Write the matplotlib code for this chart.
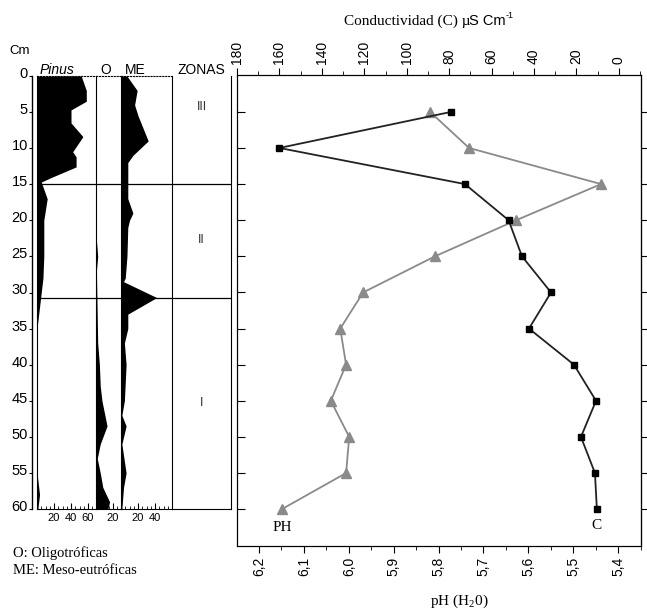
import numpy as np
import matplotlib.pyplot as plt
from matplotlib.ticker import MultipleLocator, FuncFormatter
import matplotlib.transforms as mtransforms

# Depth profile data (cm)
depth = [5, 10, 15, 20, 25, 30, 35, 40, 45, 50, 55, 60]
cond = [79, 160, 72.6, 52, 45.7, 32, 42.4, 21.2, 10.8, 17.9, 11.3, 10.4]
ph = [5.819, 5.732, 5.438, 5.627, 5.808, 5.968, 6.019, 6.006, 6.040, 5.999, 6.006, 6.149]

pinus_depth = [0, 2, 3.5, 4.7, 6.5, 8.4, 10.5, 11.2, 12.6, 14.1, 14.7, 17, 20, 25, 28, 31, 34, 35, 55, 58, 60]
pinus_val = [52, 58, 58, 40, 40, 54, 42, 46, 46, 16, 5, 12, 8, 8, 7, 4, 1, 0, 0, 3, 1]

o_depth = [0, 22, 25, 27, 37, 40, 43, 45, 48.5, 51, 53, 55, 57, 59, 60]
o_val = [0, 0, 2, 0.5, 2, 4, 5, 7, 13, 5, 1.5, 5, 8, 16, 14]

me_depth = [0, 2, 4, 5.5, 9, 11, 12, 15, 17, 19, 20, 21, 25, 28, 28.5, 30.7, 33, 35, 37, 40, 45, 47, 48.5, 51, 55, 57, 60]
me_val = [7, 19, 16, 20, 32, 14, 8, 8, 8, 14, 10, 8, 7, 5, 3, 42, 8, 8, 4, 6, 4, 1, 6, 1, 6, 3, 1]

zone_bounds = [15, 30.7]
zone_names = ["III", "II", "I"]
zone_pos = [4.3, 22.7, 45.3]

W, H = 647, 609
fig = plt.figure(figsize=(W / 100, H / 100), dpi=100)
plt.rcParams["font.family"] = "Liberation Sans"


def px_axes(x0, y0, x1, y1):
    return fig.add_axes([x0 / W, 1 - y1 / H, (x1 - x0) / W, (y1 - y0) / H])


# ---- left pollen panels ----
top, bot = 76, 509
lift = mtransforms.ScaledTranslation(0, 0.035, fig.dpi_scale_trans)

ax0 = px_axes(32, top, 33, bot)
ax0.set_ylim(60, 0)
ax0.set_xticks([])
for s in ["top", "right", "bottom"]:
    ax0.spines[s].set_visible(False)
ax0.spines["left"].set_linewidth(1.0)
ax0.set_yticks(np.arange(0, 61, 5))
ax0.tick_params(axis="y", length=2, labelsize=10.5, pad=1)
for lbl in ax0.get_yticklabels():
    lbl.set_transform(lbl.get_transform() + lift)

panels = [
    (37, 96, 59 / 0.85, pinus_depth, pinus_val, [20, 40, 60]),
    (96, 121, 25 / 0.85, o_depth, o_val, [20]),
    (121, 172, 51 / 0.85, me_depth, me_val, [20, 40]),
    (172, 231, 1, None, None, []),
]
axes_left = []
for x0, x1, xmax, d, v, ticks in panels:
    a = px_axes(x0, top, x1, bot)
    a.set_ylim(60, 0)
    a.set_xlim(0, xmax)
    a.set_yticks([])
    if d is not None:
        a.fill_betweenx(d, 0, v, color="black", lw=0)
        a.xaxis.set_minor_locator(MultipleLocator(5))
        a.spines["top"].set_linestyle(":")
    else:
        a.spines["top"].set_visible(False)
    a.set_xticks(ticks)
    a.tick_params(axis="x", which="major", direction="in", length=4, labelsize=8, pad=3)
    a.tick_params(axis="x", which="minor", direction="in", length=2)
    a.spines["right"].set_visible(False)
    for zb in zone_bounds:
        a.axhline(zb, color="black", lw=0.9)
    axes_left.append(a)

axes_left[-1].spines["right"].set_visible(True)
for name, zp in zip(zone_names, zone_pos):
    axes_left[-1].text(0.5, zp, name, ha="center", va="center", fontsize=9, color="#333")

fig.text(40 / W, 1 - 70 / H, "Pinus", style="italic", fontsize=10, ha="left", va="center")
fig.text(106 / W, 1 - 70 / H, "O", fontsize=10, ha="center", va="center")
fig.text(135 / W, 1 - 70 / H, "ME", fontsize=10, ha="center", va="center")
fig.text(201 / W, 1 - 70 / H, "ZONAS", fontsize=10, ha="center", va="center")
fig.text(20 / W, 1 - 51 / H, "Cm", fontsize=9.5, ha="center", va="center")

fig.text(13 / W, 1 - 553 / H, "O: Oligotróficas", family="Liberation Serif", fontsize=10.5, va="center")
fig.text(13 / W, 1 - 571 / H, "ME: Meso-eutróficas", family="Liberation Serif", fontsize=10.5, va="center")

# ---- right panel: pH (bottom) and conductivity (top) ----
ax = px_axes(237, 75, 641, 546)
ax.plot(ph, depth, color="#8a8a8a", lw=1.3, marker="^", ms=6.5, mfc="#8a8a8a", mec="#8a8a8a", zorder=2)
ax.set_xlim(6.249, 5.349)
ax.set_ylim(65.1, -0.1)
ax.set_xticks(np.arange(6.2, 5.35, -0.1))
ax.xaxis.set_major_formatter(FuncFormatter(lambda x, p: f"{x:.1f}".replace(".", ",")))
ax.xaxis.set_minor_locator(MultipleLocator(0.05))
ax.tick_params(axis="x", which="major", direction="out", length=5, labelsize=10, labelrotation=90, pad=3)
ax.tick_params(axis="x", which="minor", direction="out", length=3)
ax.set_yticks(np.arange(5, 61, 5))
ax.set_yticklabels([])
ax.tick_params(axis="y", direction="in", length=6)
ax.text(6.149, 62.5, "PH", family="Liberation Serif", fontsize=11, ha="center", va="center")

axr = ax.secondary_yaxis("right")
axr.set_yticks(np.arange(5, 61, 5))
axr.set_yticklabels([])
axr.tick_params(direction="out", length=4)

ax2 = ax.twiny()
ax2.plot(cond, depth, color="#222222", lw=1.3, marker="s", ms=5, mfc="black", mec="black", zorder=3)
ax2.set_xlim(180, -10.4)
ax2.set_xticks(np.arange(180, -1, -20))
ax2.xaxis.set_minor_locator(MultipleLocator(10))
ax2.tick_params(axis="x", which="major", direction="out", length=5, labelsize=10, labelrotation=90, pad=3)
ax2.tick_params(axis="x", which="minor", direction="out", length=3)
ax2.text(10.4, 62.3, "C", family="Liberation Serif", fontsize=11, ha="center", va="center")

# title: serif part then sans part, as in the original
fig.text(470 / W, 1 - 21 / H, "Conductividad (C) µ",
         family="Liberation Serif", fontsize=11, ha="right", va="center")
fig.text(469 / W, 1 - 21 / H, "S Cm", fontsize=10.5, ha="left", va="center")
fig.text(506 / W, 1 - 16 / H, "-1", fontsize=6.5, ha="left", va="center")
fig.text(459 / W, 1 - 601 / H, r"pH (H$_{\mathregular{2}}$0)",
         family="Liberation Serif", fontsize=11, ha="center", va="center")

fig.savefig("out.png", dpi=100)
